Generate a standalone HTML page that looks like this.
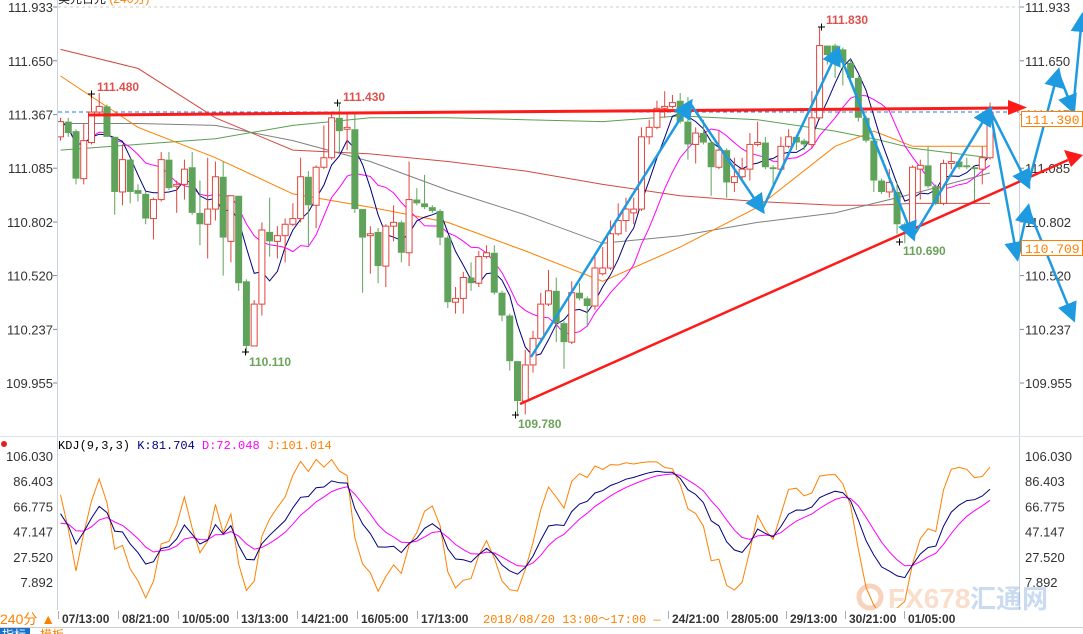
<!DOCTYPE html>
<html><head><meta charset="utf-8"><style>
html,body{margin:0;padding:0;background:#fff;overflow:hidden}
svg{display:block;font-family:"Liberation Sans","Noto Sans CJK SC",sans-serif}
</style></head><body>
<svg id="chart" width="1083" height="634" viewBox="0 0 1083 634" xmlns="http://www.w3.org/2000/svg">
<defs>
<clipPath id="mainClip"><rect x="58" y="0" width="961" height="432"/></clipPath>
<clipPath id="kdjClip"><rect x="58" y="452" width="961" height="156"/></clipPath>
<marker id="blueHead" markerWidth="8" markerHeight="8" refX="6" refY="4" orient="auto" markerUnits="strokeWidth"><path d="M0,0 L8,4 L0,8 z" fill="#1e9be0"/></marker>
</defs>
<rect x="0" y="0" width="1083" height="634" fill="#fff"/>
<text x="58" y="3" font-size="12" fill="#222">美元日元 <tspan fill="#ff8000">(240分)</tspan></text>
<line x1="58" y1="7" x2="1019" y2="7" stroke="#ccc" stroke-dasharray="3,3"/>
<line x1="57.5" y1="0" x2="57.5" y2="610" stroke="#c9d3de"/>
<line x1="1019.5" y1="0" x2="1019.5" y2="610" stroke="#c9d3de"/>
<line x1="0" y1="436.5" x2="1083" y2="436.5" stroke="#dde3ea"/>
<line x1="58" y1="112" x2="1019" y2="112" stroke="#1e7be0" stroke-dasharray="4,3"/>
<g id="axes"></g>
<g id="mas" clip-path="url(#mainClip)"></g>
<g id="candles" clip-path="url(#mainClip)"></g>
<g id="kdj" clip-path="url(#kdjClip)"></g>
<g id="annot"></g>
<g font-size="12" font-weight="bold">
<text x="97" y="91" fill="#e0504a">111.480</text>
<text x="343" y="101" fill="#e0504a">111.430</text>
<text x="826" y="24" fill="#e0504a">111.830</text>
<text x="249" y="366" fill="#6aa35a">110.110</text>
<text x="518" y="428" fill="#6aa35a">109.780</text>
<text x="903" y="255" fill="#6aa35a">110.690</text>
</g>
<g stroke="#000" stroke-width="1">
<path d="M88,94 h7 M91.5,90.5 v7"/><path d="M334,103 h7 M337.5,99.5 v7"/><path d="M818,27 h7 M821.5,23.5 v7"/>
<path d="M242,352 h7 M245.5,348.5 v7"/><path d="M512,415 h7 M515.5,411.5 v7"/><path d="M896,242 h7 M899.5,238.5 v7"/>
</g>
<g><rect x="1021.5" y="111.5" width="61" height="15" fill="#fff" stroke="#ff8000"/><text x="1025" y="124" font-size="13" fill="#ff8000" font-family="Liberation Mono,monospace">111.390</text></g>
<g><rect x="1021.5" y="240.5" width="61" height="15" fill="#fff" stroke="#ff8000"/><text x="1025" y="253" font-size="13" fill="#ff8000" font-family="Liberation Mono,monospace">110.709</text></g>
<circle cx="4" cy="444" r="3" fill="#e02020"/>
<text x="58" y="449" font-size="12" font-family="Liberation Mono,monospace"><tspan fill="#000">KDJ(9,3,3)</tspan> <tspan fill="#000080">K:81.704</tspan> <tspan fill="#ff00ff">D:72.048</tspan> <tspan fill="#ff8000">J:101.014</tspan></text>
<g opacity="0.35">
<circle cx="870" cy="597" r="11" fill="none" stroke="#f08040" stroke-width="5"/>
<text x="888" y="608" font-size="28" font-weight="bold" fill="#f5a070">FX678</text>
<text x="970" y="608" font-size="26" font-weight="bold" fill="#6b9bd8">汇通网</text>
</g>
<g id="xaxis"></g>
<text x="0" y="624" font-size="14" fill="#ff8000">240分 ▲</text>
<rect x="0" y="628" width="30" height="6" fill="#1a70c8"/>
<text x="2" y="639" font-size="12" fill="#fff">指标</text>
<text x="40" y="639" font-size="12" fill="#ff8000">模板</text>
<line x1="0" y1="627.5" x2="1083" y2="627.5" stroke="#ccc"/>
</svg>
<script>
var opens=[111.25,111.33,111.28,111.03,111.22,111.38,111.41,111.25,110.96,111.13,110.97,110.95,110.82,110.92,111.13,110.99,111.00,111.09,110.85,110.79,110.87,111.04,110.70,110.94,110.49,110.15,110.37,110.75,110.70,110.73,110.79,110.82,111.04,110.89,111.09,111.14,111.35,111.29,111.29,110.87,110.73,110.75,110.57,110.78,110.80,110.64,110.92,110.90,110.88,110.86,110.72,110.38,110.40,110.51,110.48,110.62,110.64,110.43,110.31,110.07,109.86,110.05,110.19,110.37,110.44,110.27,110.17,110.43,110.40,110.36,110.53,110.56,110.74,110.81,110.85,110.87,111.25,111.30,111.40,111.41,111.44,111.33,111.21,111.27,111.22,111.09,111.18,111.01,111.04,111.08,111.21,111.22,111.09,111.08,111.20,111.25,111.23,111.21,111.35,111.73,111.73,111.71,111.64,111.56,111.35,111.23,111.02,110.96,110.96,110.79,110.78,111.08,111.10,110.99,110.90,111.11,111.12,111.10,111.09,111.08,111.14];
var highs=[111.35,111.35,111.29,111.32,111.48,111.48,111.42,111.25,111.21,111.14,111.00,110.96,110.93,111.17,111.17,111.02,111.13,111.17,111.02,111.14,111.12,111.12,110.94,110.94,110.50,110.39,110.80,110.93,110.78,110.82,110.90,111.14,111.07,111.10,111.31,111.38,111.43,111.37,111.37,110.87,110.78,110.77,110.79,110.89,110.81,111.12,110.98,111.05,110.89,110.87,110.73,110.46,110.54,110.59,110.65,110.68,110.68,110.44,110.32,110.07,110.13,110.23,110.43,110.55,110.51,110.28,110.49,110.48,110.41,110.62,110.67,110.81,110.90,110.93,110.93,111.30,111.34,111.44,111.49,111.47,111.48,111.46,111.30,111.34,111.23,111.28,111.19,111.14,111.14,111.27,111.33,111.25,111.10,111.25,111.29,111.26,111.24,111.49,111.83,111.73,111.74,111.72,111.66,111.57,111.36,111.24,111.03,111.08,111.01,110.80,111.10,111.13,111.20,111.00,111.13,111.17,111.13,111.14,111.10,111.20,111.43];
var lows=[111.23,111.25,111.00,111.00,111.21,111.37,111.25,110.84,110.89,110.90,110.91,110.79,110.71,110.91,110.97,110.85,110.92,110.84,110.68,110.61,110.81,110.52,110.59,110.44,110.11,110.15,110.31,110.62,110.61,110.59,110.78,110.80,110.68,110.77,111.08,111.13,111.17,111.18,110.85,110.43,110.53,110.48,110.46,110.70,110.59,110.57,110.89,110.87,110.85,110.68,110.35,110.32,110.32,110.44,110.46,110.61,110.42,110.28,110.02,109.78,109.79,110.01,110.18,110.36,110.17,110.03,110.16,110.39,110.25,110.34,110.52,110.55,110.73,110.75,110.79,110.86,111.21,111.29,111.35,111.40,111.32,111.13,111.11,111.21,110.94,111.08,110.93,110.96,111.03,111.02,111.20,111.08,111.00,111.07,111.19,111.18,111.18,111.19,111.34,111.63,111.56,111.52,111.55,111.33,111.22,110.96,110.95,110.93,110.74,110.69,110.75,110.92,110.98,110.89,110.89,111.08,111.08,111.08,110.90,111.00,111.13];
var closes=[111.33,111.27,111.03,111.23,111.38,111.41,111.25,110.96,111.13,110.96,110.95,110.82,110.92,111.13,110.98,111.00,111.08,110.85,110.79,110.87,111.04,110.72,110.94,110.48,110.15,110.37,110.76,110.70,110.73,110.79,110.82,111.04,110.89,111.09,111.14,111.35,111.28,111.30,110.87,110.72,110.74,110.57,110.78,110.80,110.64,110.92,110.90,110.88,110.86,110.72,110.38,110.40,110.51,110.48,110.62,110.64,110.43,110.31,110.07,109.86,110.05,110.19,110.37,110.44,110.27,110.17,110.43,110.40,110.36,110.56,110.56,110.74,110.81,110.87,110.87,111.25,111.30,111.40,111.41,111.43,111.33,111.21,111.27,111.22,111.09,111.18,111.01,111.04,111.08,111.21,111.22,111.09,111.08,111.20,111.25,111.22,111.21,111.35,111.73,111.68,111.69,111.64,111.56,111.35,111.23,111.02,110.96,111.01,110.79,110.78,111.09,111.10,110.99,110.90,111.11,111.12,111.09,111.09,111.08,111.14,111.38];
var maSampleIdx=[0,10,20,30,40,50,60,70,80,90,100,105,110,120];
var maRed=[111.71,111.61,111.35,111.18,111.16,111.12,111.07,111.00,110.94,110.91,110.89,110.89,110.90,110.90];
var maGray=[111.32,111.32,111.31,111.23,111.12,110.97,110.84,110.69,110.73,110.80,110.85,110.90,110.95,111.06];
var maGreen=[111.18,111.21,111.24,111.31,111.35,111.35,111.34,111.33,111.36,111.34,111.28,111.24,111.19,111.14];
var maOrange=[111.57,111.30,111.14,110.95,110.88,110.80,110.65,110.49,110.67,110.88,111.20,111.28,111.20,111.20];
var priceTicks=["111.933","111.650","111.367","111.085","110.802","110.520","110.237","109.955"];
var kdjTicks=["106.030","86.403","66.775","47.147","27.520","7.892"];
var dateLabels=["07/13:00","08/21:00","10/05:00","13/13:00","14/21:00","16/05:00","17/13:00","24/21:00","28/05:00","29/13:00","30/21:00","01/05:00"];

var NS="http://www.w3.org/2000/svg";
function el(tag,attrs,parent){var e=document.createElementNS(NS,tag);for(var k in attrs)e.setAttribute(k,attrs[k]);parent.appendChild(e);return e;}
function xI(i){return 60.5+i*7.746;}
function yP(p){return 7+(111.933-p)*376/1.978;}
function yK(v){return 456+(106.03-v)*25.2/19.628;}

var axes=document.getElementById('axes');
priceTicks.forEach(function(t){
  var y=yP(parseFloat(t));
  var a=el('text',{x:53,y:y+5,'font-size':13,fill:'#333','text-anchor':'end'},axes);a.textContent=t;
  
  
  var b=el('text',{x:1025,y:y+5,'font-size':13,fill:'#333'},axes);b.textContent=t;
  
  
  el('line',{x1:53,y1:y,x2:57,y2:y,stroke:'#889'},axes);
  el('line',{x1:1020,y1:y,x2:1024,y2:y,stroke:'#889'},axes);
});
kdjTicks.forEach(function(t){
  var y=yK(parseFloat(t));
  var a=el('text',{x:53,y:y+5,'font-size':13,fill:'#333','text-anchor':'end'},axes);a.textContent=t;
  
  
  var b=el('text',{x:1025,y:y+5,'font-size':13,fill:'#333'},axes);b.textContent=t;
  
  
});

var mas=document.getElementById('mas');
function sampledLine(arr,color,name){
  var d=arr.map(function(v,k){return (k?'L':'M')+xI(maSampleIdx[k]).toFixed(1)+','+yP(v).toFixed(1);}).join(' ');
  var p=el('path',{d:d,fill:'none',stroke:color,'stroke-width':1},mas);
  
  
}
sampledLine(maRed,'#d24a40','ma-red-line');
sampledLine(maGray,'#808080','ma-gray-line');
sampledLine(maGreen,'#5aa050','ma-green-line');
sampledLine(maOrange,'#ff8000','ma-orange-line');
function smaLine(n,color,name){
  var d='';
  for(var i=0;i<closes.length;i++){var s=0,c=0;for(var j=Math.max(0,i-n+1);j<=i;j++){s+=closes[j];c++;}
    d+=(i?'L':'M')+xI(i).toFixed(1)+','+yP(s/c).toFixed(1)+' ';}
  var p=el('path',{d:d,fill:'none',stroke:color,'stroke-width':1},mas);
  
  
}
smaLine(10,'#ff00ff','ma10-line');
smaLine(5,'#000080','ma5-line');

var cg=document.getElementById('candles');
for(var i=0;i<closes.length;i++){
  var up=closes[i]>=opens[i];var col=up?'#e0453c':'#5fa35a';var cx=xI(i);
  var g=el('g',{},cg);
  
  
  var yt=yP(Math.max(opens[i],closes[i])),yb=yP(Math.min(opens[i],closes[i]));
  el('line',{x1:cx,y1:yP(highs[i]),x2:cx,y2:yt,stroke:col},g);
  el('line',{x1:cx,y1:yb,x2:cx,y2:yP(lows[i]),stroke:col},g);
  if(up) el('rect',{x:cx-3,y:yt,width:6,height:Math.max(1,yb-yt),fill:'#fff',stroke:col},g);
  else el('rect',{x:cx-3.5,y:yt,width:7,height:Math.max(1,yb-yt),fill:col},g);
}

var K=[],D=[],J=[],kp=50,dp=50;
for(var i=0;i<closes.length;i++){
  var hh=-1e9,ll=1e9;for(var j=Math.max(0,i-8);j<=i;j++){hh=Math.max(hh,highs[j]);ll=Math.min(ll,lows[j]);}
  var rsv=hh>ll?(closes[i]-ll)/(hh-ll)*100:50;
  kp=kp*2/3+rsv/3;dp=dp*2/3+kp/3;K.push(kp);D.push(dp);J.push(3*kp-2*dp);
}
var kg=document.getElementById('kdj');
function kline(arr,color,name){
  var d=arr.map(function(v,i){return (i?'L':'M')+xI(i).toFixed(1)+','+yK(v).toFixed(1);}).join(' ');
  var p=el('path',{d:d,fill:'none',stroke:color,'stroke-width':1},kg);
  
  
}
kline(J,'#ff8000','kdj-j-line');
kline(D,'#ff00ff','kdj-d-line');
kline(K,'#000080','kdj-k-line');

var xa=document.getElementById('xaxis');
var seps=[58,118,178,237,297,357,417,668,727,786,845,904];
dateLabels.forEach(function(t,k){
  var sx=seps[k];
  el('line',{x1:sx+0.5,y1:611,x2:sx+0.5,y2:619,stroke:'#aab'},xa);
  var tx=el('text',{x:sx+4,y:623,'font-size':12,'font-weight':'bold',fill:'#333'},xa);tx.textContent=t;
  
  
});
var hl=el('text',{x:483,y:623,'font-size':12,fill:'#ff8000','font-family':'Liberation Mono,monospace'},xa);
hl.textContent='2018/08/20 13:00～17:00 —';



var an=document.getElementById('annot');
var r1=el('line',{x1:88,y1:115,x2:1010,y2:108,stroke:'#ff1a1a','stroke-width':3},an);


el('path',{d:'M1008,100 L1027,107.5 L1008,115 z',fill:'#ff1a1a'},an);
var r2=el('line',{x1:520,y1:404,x2:1068,y2:160,stroke:'#ff1a1a','stroke-width':2.5},an);


el('path',{d:'M1064,150 L1083,155 L1071,167 z',fill:'#ff1a1a'},an);
var segs=[[531,357,690,103],[690,103,762,210],[762,210,838,50],[838,50,913,237],[913,237,990,110],[990,110,1028,185],[1028,185,1058,72],[1058,72,1073,110],[1073,110,1082,17],[990,110,1017,257],[1017,257,1028,208],[1028,208,1073,318]];
segs.forEach(function(s){
  var l=el('line',{x1:s[0],y1:s[1],x2:s[2],y2:s[3],stroke:'#1e9be0','stroke-width':2.5,'marker-end':'url(#blueHead)'},an);
  
  
});
</script>
</body></html>
